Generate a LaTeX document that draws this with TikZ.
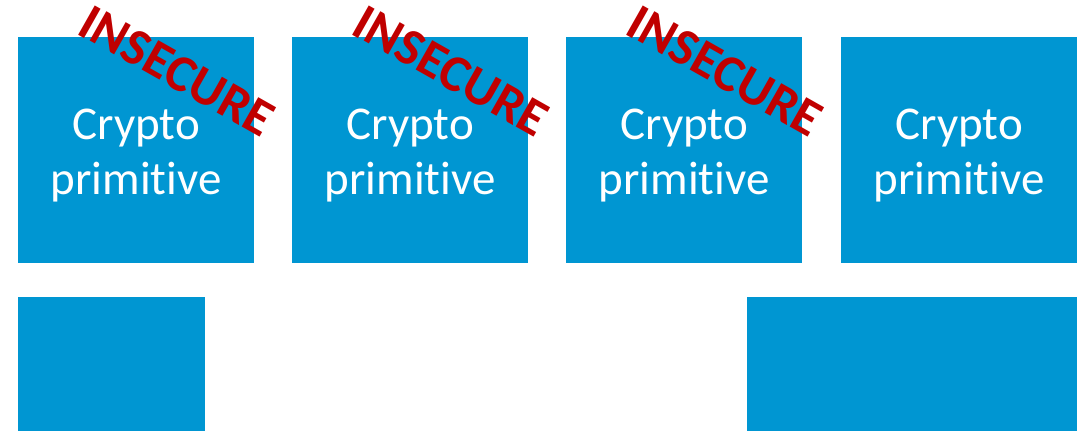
\documentclass[tikz,border=0pt]{standalone}
\usepackage{fontspec}
\setmainfont[Ligatures={NoCommon}]{Carlito}
\definecolor{boxblue}{RGB}{0,150,210}
\definecolor{insred}{RGB}{192,0,0}
\tikzset{
  prim/.style={fill=boxblue, draw=none, inner sep=0pt, minimum width=236pt, minimum height=226pt, anchor=north west},
  plain/.style={fill=boxblue, draw=none, inner sep=0pt, anchor=north west},
  primtext/.style={text=white, align=center, inner sep=0pt, font=\fontsize{47}{55}\selectfont},
  insec/.style={text=insred, inner sep=0pt, rotate=-29.5, font=\bfseries\fontsize{52}{60}\selectfont}
}
\begin{document}
\begin{tikzpicture}[x=1pt,y=-1pt]
\useasboundingbox (0,0) rectangle (1087,431);
\node[prim] (b1) at (18,37) {};
\node[prim] (b2) at (292,37) {};
\node[prim] (b3) at (566,37) {};
\node[prim] (b4) at (841,37) {};
\node[plain, minimum width=187pt, minimum height=134pt] (c1) at (18,297) {};
\node[plain, minimum width=330pt, minimum height=134pt] (c2) at (747,297) {};
\foreach \b in {b1,b2,b3,b4}{
  \node[primtext] (t\b) at ([yshift=-5pt]\b.center) {Crypto\\primitive};
}
\foreach \b/\x in {b1/18,b2/292,b3/566}{
  \node[insec] (i\b) at (\x+159,71) {INSECURE};
}
\end{tikzpicture}
\end{document}
